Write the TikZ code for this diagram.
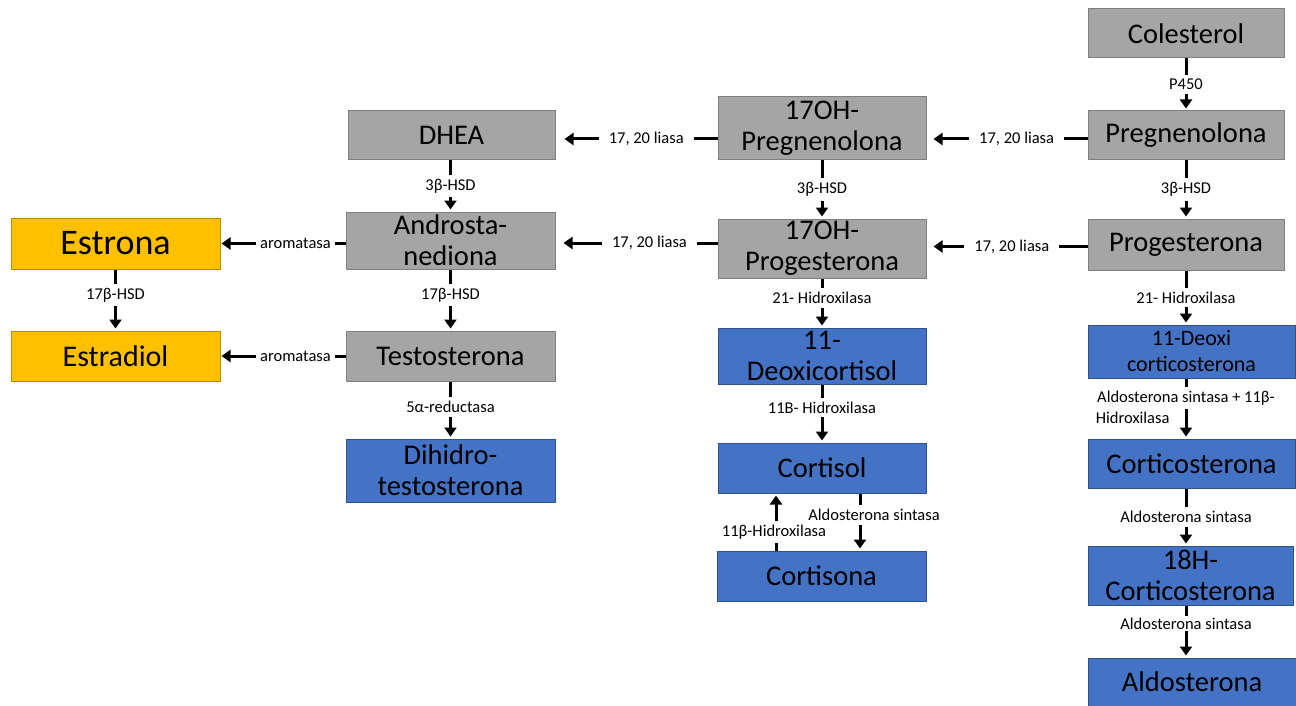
\documentclass[tikz,border=0pt]{standalone}
\usepackage{fontspec}
\setmainfont{Carlito}
\usetikzlibrary{arrows.meta}

\definecolor{grayfill}{HTML}{A5A5A5}
\definecolor{grayline}{HTML}{7F7F7F}
\definecolor{bluefill}{HTML}{4472C4}
\definecolor{blueline}{HTML}{2F528F}
\definecolor{goldfill}{HTML}{FFC000}
\definecolor{goldline}{HTML}{BC8C00}

\tikzset{
  box/.style={draw, line width=1pt, inner sep=0pt, align=center,
    font=\fontsize{28.5}{31}\selectfont},
  gbox/.style={box, fill=grayfill, draw=grayline},
  bbox/.style={box, fill=bluefill, draw=blueline},
  ybox/.style={box, fill=goldfill, draw=goldline},
  arr/.style={line width=3pt, -{Triangle[length=9pt,width=12pt]}, shorten >=2pt},
  enz/.style={fill=white, inner xsep=10pt, inner ysep=4pt, font=\fontsize{16.5}{19}\selectfont},
}

\begin{document}
\begin{tikzpicture}[x=1pt,y=-1pt]
            \useasboundingbox (0,0) rectangle (1296,706);

            % right column
            \node[gbox, minimum width=196, minimum height=49] (colesterol) at (1186,33.5) {Colesterol};
            \node[gbox, minimum width=196, minimum height=49] (pregnenolona) at (1186,135.5) {Pregnenolona};
            \node[gbox, minimum width=196, minimum height=51] (progesterona) at (1186,244.5) {Progesterona};
            \node[bbox, minimum width=207, minimum height=53, font=\fontsize{22}{26}\selectfont] (deoxicortico) at (1191.5,351.5) {11-Deoxi\\corticosterona};
            \node[bbox, minimum width=207, minimum height=49] (corticosterona) at (1191.5,463.5) {Corticosterona};
            \node[bbox, minimum width=205, minimum height=59] (hcortico) at (1190.5,575.5) {18H-\\Corticosterona};
            \node[bbox, minimum width=208, minimum height=48] (aldosterona) at (1192,682) {Aldosterona};

            % middle column
            \node[gbox, minimum width=208, minimum height=63] (ohpreg) at (822,128.5) {17OH-\\Pregnenolona};
            \node[gbox, minimum width=208, minimum height=59] (ohprog) at (822,248.5) {17OH-\\Progesterona};
            \node[bbox, minimum width=208, minimum height=56] (deoxicortisol) at (822,356) {11-\\Deoxicortisol};
            \node[bbox, minimum width=208, minimum height=50] (cortisol) at (822,468) {Cortisol};
            \node[bbox, minimum width=209, minimum height=50] (cortisona) at (821.5,576) {Cortisona};

            % androgens
            \node[gbox, minimum width=207, minimum height=49] (dhea) at (451.5,135.5) {DHEA};
            \node[gbox, minimum width=209, minimum height=57] (androstenediona) at (450.5,240.5) {Androsta-\\nediona};
            \node[gbox, minimum width=209, minimum height=50] (testosterona) at (450.5,356) {Testosterona};
            \node[bbox, minimum width=209, minimum height=63] (dht) at (450.5,470.5) {Dihidro-\\testosterona};

            % estrogens
            \node[ybox, minimum width=209, minimum height=51, font=\fontsize{36}{40}\selectfont] (estrona) at (115.5,243.5) {Estrona};
            \node[ybox, minimum width=209, minimum height=50, font=\fontsize{30}{34}\selectfont] (estradiol) at (115.5,356) {Estradiol};

            % vertical steps
            \draw[arr] (colesterol) -- (pregnenolona) node[enz, midway] {P450};
            \draw[arr] (pregnenolona) -- (progesterona) node[enz, midway] {3β-HSD};
            \draw[arr] (progesterona) -- (progesterona |- deoxicortico.north) node[enz, midway] {21- Hidroxilasa};
            \draw[arr] (deoxicortico.south -| progesterona) -- (corticosterona.north -| progesterona)
                node[enz, pos=.33, inner xsep=2pt] (aldoenz) {Aldosterona sintasa + 11β-};
            \node[enz, fill=none, anchor=north west, inner sep=0pt] at ([xshift=2pt,yshift=-1pt]aldoenz.south west) {Hidroxilasa};
            \draw[arr] (corticosterona.south -| progesterona) -- (hcortico.north -| progesterona) node[enz, midway] {Aldosterona sintasa};
            \draw[arr] (hcortico.south -| progesterona) -- (aldosterona.north -| progesterona) node[enz, pos=.35, inner ysep=2pt] {Aldosterona sintasa};

            \draw[arr] (ohpreg) -- (ohprog) node[enz, midway] {3β-HSD};
            \draw[arr] (ohprog) -- (deoxicortisol) node[enz, pos=.4] {21- Hidroxilasa};
            \draw[arr] (deoxicortisol) -- (cortisol) node[enz, pos=.4] {11B- Hidroxilasa};
            \draw[arr] ([xshift=38pt]cortisol.south) -- ([xshift=38.5pt]cortisona.north)
                node[enz, pos=.38, xshift=14pt, inner xsep=2pt] {Aldosterona sintasa};
            \draw[arr] ([xshift=-45.5pt]cortisona.north) -- ([xshift=-46pt]cortisol.south)
                node[enz, pos=.33, xshift=-2pt, inner xsep=2pt] {11β-Hidroxilasa};

            \draw[arr] (dhea.south -| androstenediona) -- (androstenediona) node[enz, midway] {3β-HSD};
            \draw[arr] (androstenediona) -- (testosterona) node[enz, pos=.42] {17β-HSD};
            \draw[arr] (testosterona) -- (dht) node[enz, pos=.45] {5α-reductasa};
            \draw[arr] (estrona) -- (estradiol) node[enz, pos=.42] {17β-HSD};

            % horizontal steps
            \draw[arr, shorten >=7pt] (pregnenolona.west |- 0,139) -- (ohpreg.east |- 0,139) node[enz, pos=.44] {17, 20 liasa};
            \draw[arr, shorten >=9pt] (ohpreg.west |- 0,139) -- (dhea.east |- 0,139) node[enz, pos=.44] {17, 20 liasa};
            \draw[arr, shorten >=7pt] (progesterona.west |- 0,246.5) -- (ohprog.east |- 0,246.5) node[enz, pos=.47] {17, 20 liasa};
            \draw[arr, shorten >=8pt] (ohprog.west |- 0,243) -- (androstenediona.east |- 0,243) node[enz, pos=.42] {17, 20 liasa};
            \draw[arr, shorten >=1pt] (androstenediona.west |- estrona) -- (estrona) node[enz, pos=.4, inner xsep=4pt] {aromatasa};
            \draw[arr, shorten >=1pt] (testosterona) -- (estradiol) node[enz, pos=.4, inner xsep=4pt] {aromatasa};
\end{tikzpicture}
\end{document}
